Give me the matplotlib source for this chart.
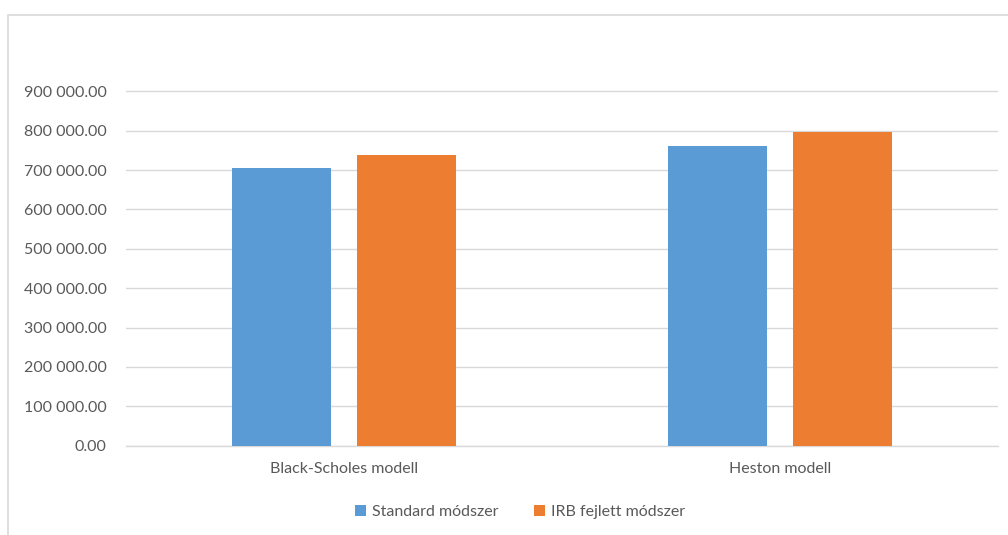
import matplotlib
matplotlib.use("Agg")
import matplotlib.pyplot as plt
from matplotlib.patches import Rectangle
from matplotlib.ticker import FuncFormatter
import numpy as np

categories = ["Black-Scholes modell", "Heston modell"]
series_names = ["Standard módszer", "IRB fejlett módszer"]
standard_values = [706000, 762000]
irb_values = [738000, 797000]
y_ticks = [0, 100000, 200000, 300000, 400000, 500000, 600000, 700000, 800000, 900000]

blue = "#5B9BD5"
orange = "#ED7D31"
text_gray = "#595959"
grid_gray = "#D9D9D9"

plt.rcParams["font.family"] = ["Lato", "DejaVu Sans"]

fig = plt.figure(figsize=(10.08, 5.35), dpi=100)
W, H = 1008, 535

# chart area border
fig.patches.append(Rectangle((8 / W, -0.05), 1.1, (H - 14.5) / H + 0.05,
                             transform=fig.transFigure, fill=False,
                             edgecolor="#D9D9D9", linewidth=1.2))

ax = fig.add_axes([126 / W, (H - 445.7) / H, (998 - 126) / W, (445.7 - 52) / H])

x = np.arange(len(categories))
offset = 0.1433
width = 0.225
ax.bar(x - offset, standard_values, width, color=blue, label=series_names[0], zorder=3)
ax.bar(x + offset, irb_values, width, color=orange, label=series_names[1], zorder=3)

ax.set_xlim(-0.5, 1.5)
ax.set_ylim(0, 1000000)
ax.set_yticks(y_ticks)
ax.yaxis.set_major_formatter(FuncFormatter(lambda v, p: f"{v:,.2f}".replace(",", " ")))
ax.set_xticks(x)
ax.set_xticklabels(categories)

ax.grid(axis="y", color=grid_gray, linewidth=1.0, zorder=0)
for side in ["top", "right", "left"]:
    ax.spines[side].set_visible(False)
ax.spines["bottom"].set_color(grid_gray)
ax.spines["bottom"].set_linewidth(1.0)
ax.tick_params(axis="both", length=0, colors=text_gray, labelsize=11.5)
ax.tick_params(axis="y", pad=14)
ax.tick_params(axis="x", pad=12)

handles, labels = ax.get_legend_handles_labels()
fig.legend(handles, labels, loc="center", bbox_to_anchor=(520 / W, (H - 512) / H),
           ncol=2, frameon=False, fontsize=11.5, labelcolor=text_gray,
           handlelength=0.7, handleheight=0.7, handletextpad=0.4, columnspacing=2.2)

fig.savefig("out.png", dpi=100, facecolor="white")
